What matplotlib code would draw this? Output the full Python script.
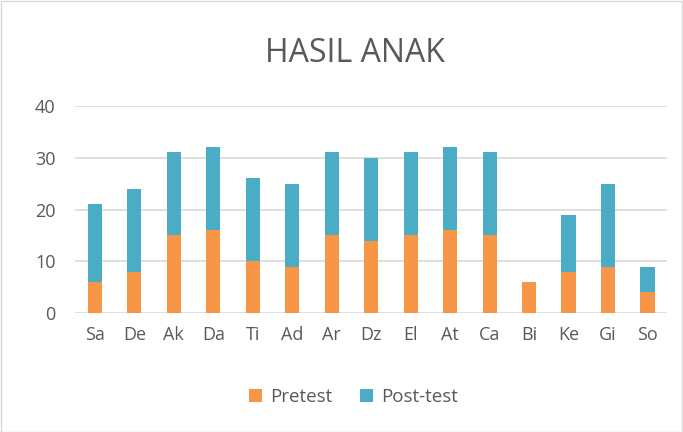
import numpy as np
import matplotlib
matplotlib.use('Agg')
import matplotlib.pyplot as plt
from matplotlib.patches import Rectangle

names = ['Sa', 'De', 'Ak', 'Da', 'Ti', 'Ad', 'Ar', 'Dz', 'El', 'At', 'Ca', 'Bi', 'Ke', 'Gi', 'So']
pretest = [6, 8, 15, 16, 10, 9, 15, 14, 15, 16, 15, 6, 8, 9, 4]
posttest = [15, 16, 16, 16, 16, 16, 16, 16, 16, 16, 16, 0, 11, 16, 5]

plt.rcParams['font.family'] = ['Open Sans', 'DejaVu Sans']
gray = '#595959'

fig = plt.figure(figsize=(6.83, 4.32), dpi=100)
ax = fig.add_axes([0.110, 0.275, 0.867, 0.48])

x = np.arange(len(names))
ax.bar(x, pretest, width=0.36, color='#F79646', label='Pretest', zorder=3)
ax.bar(x, posttest, width=0.36, bottom=pretest, color='#4BACC6', label='Post-test', zorder=3)

ax.set_ylim(0, 40)
ax.set_xlim(-0.5, len(names) - 0.5)
ax.set_yticks([0, 10, 20, 30, 40])
ax.set_xticks(x)
ax.set_xticklabels(names)
ax.tick_params(axis='both', length=0, labelsize=13, colors=gray)
ax.tick_params(axis='y', pad=14)
ax.tick_params(axis='x', pad=9)
ax.grid(axis='y', color='#D9D9D9', linewidth=1.2, zorder=0)
for s in ax.spines.values():
    s.set_visible(False)

fig.text(0.52, 0.875, 'HASIL ANAK', ha='center', va='center', fontsize=23, color=gray)
ax.legend(loc='center', bbox_to_anchor=(0.47, -0.405), ncol=2, frameon=False,
          fontsize=13.5, labelcolor=gray, handlelength=0.7, handleheight=0.7,
          columnspacing=1.5, handletextpad=0.4)

fig.patches.append(Rectangle((0.001, 0.001), 0.998, 0.997, transform=fig.transFigure,
                             fill=False, edgecolor='#D9D9D9', linewidth=1))

fig.savefig('out.png', dpi=100)
